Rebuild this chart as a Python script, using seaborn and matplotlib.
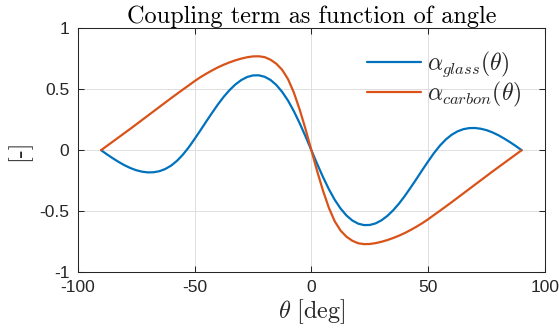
import matplotlib
matplotlib.use("Agg")
import matplotlib.pyplot as plt
import pandas as pd
import seaborn as sns

# Fibre angle [deg]
theta = [-90, -87.5, -85, -82.5, -80, -77.5, -75, -72.5, -70, -67.5, -65, -62.5,
         -60, -57.5, -55, -52.5, -50, -47.5, -45, -42.5, -40, -37.5, -35, -32.5,
         -30, -27.5, -25, -22.5, -20, -17.5, -15, -12.5, -10, -7.5, -5, -2.5,
         0, 2.5, 5, 7.5, 10, 12.5, 15, 17.5, 20, 22.5, 25, 27.5, 30, 32.5, 35,
         37.5, 40, 42.5, 45, 47.5, 50, 52.5, 55, 57.5, 60, 62.5, 65, 67.5, 70,
         72.5, 75, 77.5, 80, 82.5, 85, 87.5, 90]

# Coupling term, glass-fibre lamina
alpha_glass = [0.0, -0.034, -0.066, -0.096, -0.123, -0.146, -0.164, -0.176,
               -0.182, -0.181, -0.172, -0.154, -0.126, -0.087, -0.037, 0.023,
               0.091, 0.162, 0.235, 0.306, 0.375, 0.438, 0.493, 0.539, 0.575,
               0.600, 0.613, 0.614, 0.602, 0.576, 0.535, 0.478, 0.407, 0.320,
               0.221, 0.113,
               0.0,
               -0.113, -0.221, -0.320, -0.407, -0.478, -0.535, -0.576, -0.602,
               -0.614, -0.613, -0.600, -0.575, -0.539, -0.493, -0.438, -0.375,
               -0.306, -0.235, -0.162, -0.091, -0.023, 0.037, 0.087, 0.126,
               0.154, 0.172, 0.181, 0.182, 0.176, 0.164, 0.146, 0.123, 0.096,
               0.066, 0.034, 0.0]

# Coupling term, carbon-fibre lamina
alpha_carbon = [0.0, 0.035, 0.070, 0.105, 0.140, 0.175, 0.211, 0.247, 0.283,
                0.319, 0.355, 0.391, 0.427, 0.462, 0.497, 0.531, 0.566, 0.598,
                0.627, 0.654, 0.679, 0.701, 0.720, 0.737, 0.751, 0.762, 0.769,
                0.770, 0.763, 0.742, 0.709, 0.659, 0.583, 0.473, 0.333, 0.173,
                0.0,
                -0.173, -0.333, -0.473, -0.583, -0.659, -0.709, -0.742, -0.763,
                -0.770, -0.769, -0.762, -0.751, -0.737, -0.720, -0.701, -0.679,
                -0.654, -0.627, -0.598, -0.566, -0.531, -0.497, -0.462, -0.427,
                -0.391, -0.355, -0.319, -0.283, -0.247, -0.211, -0.175, -0.140,
                -0.105, -0.070, -0.035, 0.0]

series_names = [r"$\alpha_{glass}(\theta)$", r"$\alpha_{carbon}(\theta)$"]
series_colors = ["#0072BD", "#D95319"]

x_ticks = [-100, -50, 0, 50, 100]
x_ticklabels = ["-100", "-50", "0", "50", "100"]
y_ticks = [-1, -0.5, 0, 0.5, 1]
y_ticklabels = ["-1", "-0.5", "0", "0.5", "1"]

df = pd.concat([
    pd.DataFrame({"theta": theta, "alpha": alpha_glass, "series": series_names[0]}),
    pd.DataFrame({"theta": theta, "alpha": alpha_carbon, "series": series_names[1]}),
], ignore_index=True)

sns.set_style("white")
plt.rcParams["mathtext.fontset"] = "cm"
plt.rcParams["font.family"] = ["Liberation Sans", "DejaVu Sans"]
plt.rcParams["axes.unicode_minus"] = False

axis_color = "#262626"

fig = plt.figure(figsize=(5.59, 3.36), dpi=100)
ax = fig.add_axes([0.139, 0.190, 0.836, 0.726])

sns.lineplot(data=df, x="theta", y="alpha", hue="series", palette=series_colors,
             estimator=None, sort=False, linewidth=1.6, ax=ax)
for line in ax.get_lines():
    line.set_solid_joinstyle("round")

ax.set_xlim(-100, 100)
ax.set_ylim(-1, 1)
ax.set_xticks(x_ticks)
ax.set_xticklabels(x_ticklabels)
ax.set_yticks(y_ticks)
ax.set_yticklabels(y_ticklabels)

ax.grid(True, color="#dfdfdf", linewidth=0.7)
ax.set_axisbelow(True)
for side in ["left", "right", "top", "bottom"]:
    ax.spines[side].set_visible(True)
    ax.spines[side].set_color(axis_color)
    ax.spines[side].set_linewidth(0.75)

ax.tick_params(axis="both", which="both", direction="in", length=4, width=0.75,
               color=axis_color, labelcolor=axis_color, labelsize=12.5,
               top=True, right=True, bottom=True, left=True, pad=6)

ax.set_title("Coupling term as function of angle", fontfamily="cmr10",
             fontsize=17.5, color="black", pad=4)
ax.set_xlabel(r"$\theta\ \mathrm{[deg]}$", fontsize=17.5, color=axis_color, labelpad=1)
ax.set_ylabel("[-]", fontfamily="cmr10", fontsize=17.5, color=axis_color, labelpad=6)

handles, labels = ax.get_legend_handles_labels()
ax.legend(handles, labels, loc="upper left", bbox_to_anchor=(0.619, 0.913),
          frameon=False, fontsize=17, handlelength=2.3, handletextpad=0.25,
          borderpad=0, borderaxespad=0, labelspacing=0.05)

fig.savefig("out.png", dpi=100)
